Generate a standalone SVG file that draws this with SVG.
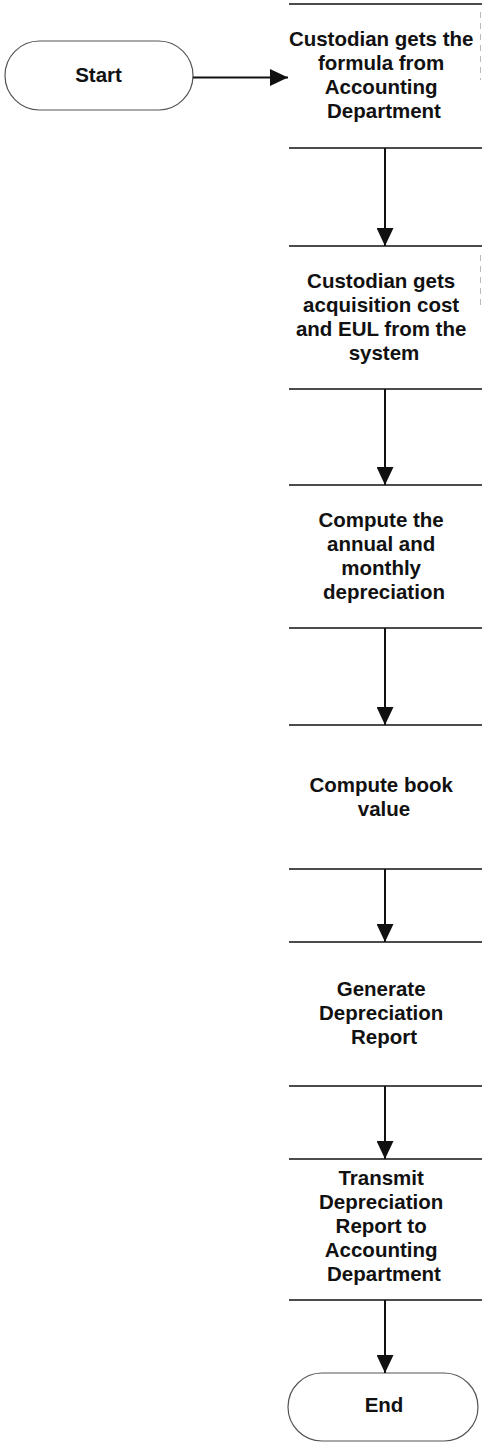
<svg xmlns="http://www.w3.org/2000/svg" width="482" height="1445" viewBox="0 0 482 1445">
  <style>
    .bg { fill: #ffffff; }
    .edge { stroke: #111111; stroke-width: 1.6; fill: none; }
    .side { stroke: #bbbbbb; stroke-width: 1; stroke-dasharray: 6 5; fill: none; }
    .term { fill: #ffffff; stroke: #555555; stroke-width: 1.2; }
    .label { font-family: "Liberation Sans", Arial, sans-serif; font-size: 20.5px; font-weight: bold; fill: #111111; text-anchor: middle; }
    .conn { stroke: #111111; stroke-width: 2; fill: none; marker-end: url(#arrow); }
  </style>
  <defs>
    <marker id="arrow" viewBox="0 0 18 17" refX="18" refY="8.5" markerWidth="18" markerHeight="17" orient="auto" markerUnits="userSpaceOnUse">
      <path d="M0,0 L18,8.5 L0,17 Z" fill="#111111"/>
    </marker>
  </defs>

  <rect class="bg" x="0" y="0" width="482" height="1445"/>

  <!-- Start terminator -->
  <g id="start">
    <rect class="term" x="5" y="41" width="188" height="69" rx="34.5" ry="34.5"/>
    <text class="label" x="98.5" y="82">Start</text>
  </g>

  <!-- Process steps: drawn with top and bottom rules -->
  <g id="step1">
    <line class="edge" x1="289" y1="4" x2="482" y2="4"/>
    <line class="edge" x1="289" y1="148" x2="482" y2="148"/>
    <line class="side" x1="480.5" y1="12" x2="480.5" y2="80"/>
    <text class="label" x="384">
      <tspan x="384" y="46">Custodian gets the</tspan>
      <tspan x="384" y="70">formula from</tspan>
      <tspan x="384" y="94">Accounting</tspan>
      <tspan x="384" y="118">Department</tspan>
    </text>
  </g>

  <g id="step2">
    <line class="edge" x1="289" y1="246" x2="482" y2="246"/>
    <line class="edge" x1="289" y1="389" x2="482" y2="389"/>
    <line class="side" x1="480.5" y1="255" x2="480.5" y2="310"/>
    <text class="label" x="384">
      <tspan x="384" y="288">Custodian gets</tspan>
      <tspan x="384" y="312">acquisition cost</tspan>
      <tspan x="384" y="336">and EUL from the</tspan>
      <tspan x="384" y="360">system</tspan>
    </text>
  </g>

  <g id="step3">
    <line class="edge" x1="289" y1="485" x2="482" y2="485"/>
    <line class="edge" x1="289" y1="628" x2="482" y2="628"/>
    <text class="label" x="384">
      <tspan x="384" y="527">Compute the</tspan>
      <tspan x="384" y="551">annual and</tspan>
      <tspan x="384" y="575">monthly</tspan>
      <tspan x="384" y="599">depreciation</tspan>
    </text>
  </g>

  <g id="step4">
    <line class="edge" x1="289" y1="725" x2="482" y2="725"/>
    <line class="edge" x1="289" y1="869" x2="482" y2="869"/>
    <text class="label" x="384">
      <tspan x="384" y="792">Compute book</tspan>
      <tspan x="384" y="816">value</tspan>
    </text>
  </g>

  <g id="step5">
    <line class="edge" x1="289" y1="942" x2="482" y2="942"/>
    <line class="edge" x1="289" y1="1086" x2="482" y2="1086"/>
    <text class="label" x="384">
      <tspan x="384" y="996">Generate</tspan>
      <tspan x="384" y="1020">Depreciation</tspan>
      <tspan x="384" y="1044">Report</tspan>
    </text>
  </g>

  <g id="step6">
    <line class="edge" x1="289" y1="1159" x2="482" y2="1159"/>
    <line class="edge" x1="289" y1="1300" x2="482" y2="1300"/>
    <text class="label" x="384">
      <tspan x="384" y="1185">Transmit</tspan>
      <tspan x="384" y="1209">Depreciation</tspan>
      <tspan x="384" y="1233">Report to</tspan>
      <tspan x="384" y="1257">Accounting</tspan>
      <tspan x="384" y="1281">Department</tspan>
    </text>
  </g>

  <!-- End terminator -->
  <g id="end">
    <rect class="term" x="288" y="1373" width="190" height="68" rx="34" ry="34"/>
    <text class="label" x="384" y="1412">End</text>
  </g>

  <!-- Flow connectors -->
  <g id="connectors">
    <path class="conn" d="M193,77.5 H288"/>
    <path class="conn" d="M385,148 V246"/>
    <path class="conn" d="M385,389 V485"/>
    <path class="conn" d="M385,628 V725"/>
    <path class="conn" d="M385,869 V942"/>
    <path class="conn" d="M385,1086 V1159"/>
    <path class="conn" d="M385,1300 V1373"/>
  </g>
</svg>
